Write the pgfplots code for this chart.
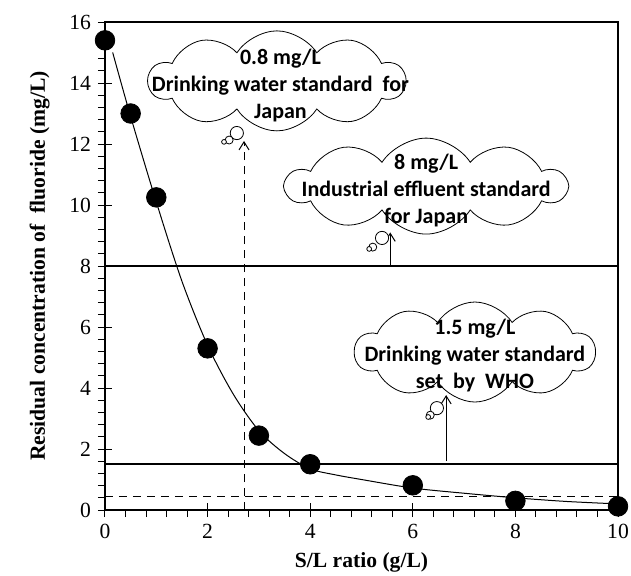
\documentclass[border=0pt]{standalone}
\usepackage{fontspec}
\setmainfont{Liberation Serif}
\newfontfamily\calib{Carlito}
\usepackage{pgfplots}
\pgfplotsset{compat=1.18}
\usetikzlibrary{shapes.symbols,arrows.meta}

\begin{document}
\begin{tikzpicture}
\useasboundingbox (-52.5pt,-32.5pt) rectangle (263pt,255pt);
\begin{axis}[
  at={(0,0)}, anchor=south west,
  width=256.5pt, height=244pt, scale only axis,
  xmin=0, xmax=10, ymin=0, ymax=16,
  xtick={0,2,...,10}, ytick={0,2,...,16},
  minor x tick num=4, minor y tick num=4,
  tick align=center, tick pos=left,
  major tick length=7pt, minor tick length=3.5pt,
  minor x tick style={yshift=-1.75pt},
  minor y tick style={xshift=-1.75pt},
  tick style={black, line width=0.5pt},
  axis line style={line width=0.8pt},
  ticklabel style={font=\fontsize{10.8}{12}\selectfont},
  /pgf/number format/assume math mode=true,
  xlabel={S/L ratio (g/L)},
  ylabel={Residual concentration of\ \ fluoride (mg/L)},
  ylabel shift=3pt,
  label style={font=\bfseries\fontsize{10.8}{12}\selectfont},
  clip=false,
]
% standards
\addplot[line width=1pt] coordinates {(0,8) (10,8)};
\addplot[line width=1pt] coordinates {(0,1.5) (10,1.5)};
\addplot[line width=0.5pt, dash pattern=on 4pt off 3pt] coordinates {(0,0.44) (10,0.44)};
% fitted curve
\addplot[line width=0.5pt, smooth, tension=0.5] coordinates {
  (0.15,15.0) (0.5,12.9) (1,10.1) (1.5,7.5) (2,5.4) (2.5,3.8) (3,2.6)
  (3.5,1.85) (4,1.35) (4.5,1.15) (5,1.0) (6,0.72) (7,0.55) (8,0.4) (9,0.28) (10,0.2)};
% measured
\addplot[only marks, mark=*, mark size=4.9pt, black] coordinates {
  (0,15.4) (0.5,13) (1,10.25) (2,5.3) (3,2.44) (4,1.5) (6,0.81) (8,0.3) (10,0.12)};

% clouds
\node[cloud, cloud puffs=10, cloud puff arc=115, cloud ignores aspect, draw, fill=white,
  minimum width=128pt, minimum height=50pt, inner sep=0pt] at (axis cs:3.35,14.07) {};
\node[cloud, cloud puffs=10, cloud puff arc=115, cloud ignores aspect, draw, fill=white,
  minimum width=140pt, minimum height=48pt, inner sep=0pt] at (axis cs:6.26,10.62) {};
\node[cloud, cloud puffs=10, cloud puff arc=115, cloud ignores aspect, draw, fill=white,
  minimum width=120pt, minimum height=50pt, inner sep=0pt] at (axis cs:7.21,5.18) {};

% arrows
\draw[line width=0.5pt, dash pattern=on 4pt off 3pt, -{Straight Barb[length=4pt,width=5pt]}]
  (axis cs:2.71,0) -- (axis cs:2.71,12.1);
\draw[line width=0.5pt, -{Straight Barb[length=4pt,width=5pt]}] (axis cs:5.56,8) -- (axis cs:5.56,9.1);
\draw[line width=0.5pt, -{Straight Barb[length=4pt,width=5pt]}] (axis cs:6.65,1.6) -- (axis cs:6.65,3.77);

% thought bubbles
\draw[fill=white] (axis cs:2.57,12.36) circle[radius=3.3pt];
\draw[fill=white] (axis cs:2.42,12.13) circle[radius=2pt];
\draw[fill=white] (axis cs:2.32,12.07) circle[radius=1.2pt];
\draw[fill=white] (axis cs:5.40,8.92) circle[radius=3.3pt];
\draw[fill=white] (axis cs:5.22,8.62) circle[radius=2pt];
\draw[fill=white] (axis cs:5.15,8.56) circle[radius=1.2pt];
\draw[fill=white] (axis cs:6.47,3.34) circle[radius=3.3pt];
\draw[fill=white] (axis cs:6.34,3.11) circle[radius=2pt];
\draw[fill=white] (axis cs:6.30,3.05) circle[radius=1.2pt];

% cloud text
\node[align=center, font=\calib\bfseries\fontsize{11}{13.5}\selectfont] at (axis cs:3.42,13.93)
  {0.8 mg/L\\Drinking water standard\ \ for\\Japan};
\node[align=center, font=\calib\bfseries\fontsize{11}{13.5}\selectfont] at (axis cs:6.26,10.49)
  {8 mg/L\\Industrial effluent standard\\for Japan};
\node[align=center, font=\calib\bfseries\fontsize{11}{13.5}\selectfont] at (axis cs:7.21,5.08)
  {1.5 mg/L\\Drinking water standard\\set\ \ by\ \ WHO};
\end{axis}
\end{tikzpicture}
\end{document}
